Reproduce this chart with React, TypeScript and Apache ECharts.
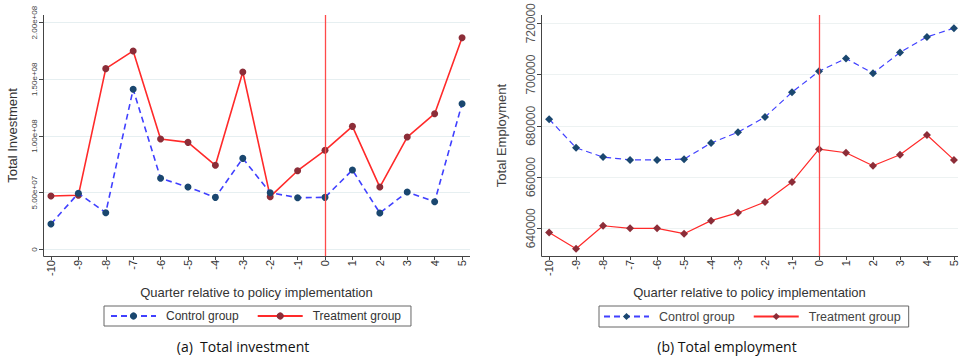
import React, { useEffect, useRef } from "react";
import * as echarts from "echarts";

const quarters = [-10, -9, -8, -7, -6, -5, -4, -3, -2, -1, 0, 1, 2, 3, 4, 5];

const investControl = [2.24e7, 4.95e7, 3.24e7, 1.412e8, 6.27e7, 5.5e7, 4.59e7, 8.03e7, 5.0e7, 4.56e7, 4.59e7, 7.0e7, 3.21e7, 5.06e7, 4.21e7, 1.285e8];
const investTreatment = [4.71e7, 4.77e7, 1.594e8, 1.75e8, 9.74e7, 9.44e7, 7.42e7, 1.564e8, 4.65e7, 6.94e7, 8.74e7, 1.085e8, 5.5e7, 9.91e7, 1.197e8, 1.867e8];

const employControl = [682600, 671400, 667800, 666700, 666700, 667000, 673300, 677500, 683400, 693100, 701300, 706300, 700500, 708600, 714700, 718100];
const employTreatment = [638400, 632000, 641000, 640000, 640000, 637900, 643000, 646100, 650300, 658100, 670900, 669500, 664400, 668700, 676400, 666700];

const investTicks = [0, 5e7, 1e8, 1.5e8, 2e8];
const employTicks = [640000, 660000, 680000, 700000, 720000];
const policyQuarter = 0;

const FONT = "'Liberation Sans', Arial, sans-serif";
const RED = "#ff2a2a";
const POLICY_RED = "#ff4a4a";
const MAROON = "#8c2d38";
const BLUE = "#4040ff";
const NAVY = "#1a476f";
const AXIS = "#444444";

function fmtInvest(v: number): string {
  if (v === 0) return "0";
  return v.toExponential(2).replace(/e\+(\d)$/, "e+0$1");
}

export default function App() {
  const ref = useRef<HTMLDivElement>(null);
  useEffect(() => {
    document.body.style.margin = "0";
    const chart = echarts.init(ref.current!, null, { renderer: "svg" });
    const pairs = (ys: number[]) => quarters.map((q, i) => [q, ys[i]]);
    const xAxisCommon = (gridIndex: number, min: number, max: number) => ({
      type: "value",
      gridIndex,
      min,
      max,
      name: "Quarter relative to policy implementation",
      nameLocation: "middle",
      nameGap: 30,
      nameTextStyle: { fontFamily: FONT, fontSize: 13, color: "#333" },
      axisLine: { show: false, onZero: false },
      axisTick: { show: true, length: 4, customValues: quarters, lineStyle: { color: AXIS } },
      axisLabel: {
        customValues: quarters,
        rotate: 90,
        margin: 4,
        fontFamily: FONT,
        fontSize: 11,
        color: "#333",
        formatter: (v: number) => String(v),
      },
      splitLine: { show: false },
      minorSplitLine: { show: false },
    });
    const frameSeries = (idx: number) => ({
      type: "custom",
      coordinateSystem: "cartesian2d",
      xAxisIndex: idx,
      yAxisIndex: idx,
      silent: true,
      clip: false,
      data: [[policyQuarter]],
      encode: { x: 0 },
      renderItem: (params: any, api: any) => {
        const cs = params.coordSys;
        const x = Math.round(api.coord([api.value(0), 0])[0]) + 0.5;
        const left = Math.round(cs.x) + 0.5;
        const bottom = Math.round(cs.y + cs.height) + 0.5;
        return {
          type: "group",
          children: [
            {
              type: "line",
              z2: 100,
              shape: { x1: x, y1: cs.y, x2: x, y2: cs.y + cs.height },
              style: { stroke: POLICY_RED, fill: null, lineWidth: 1.3, opacity: 1 },
            },
            {
              type: "line",
              shape: { x1: left, y1: cs.y, x2: left, y2: bottom },
              style: { stroke: AXIS, fill: null, lineWidth: 1 },
            },
            {
              type: "line",
              shape: { x1: left, y1: bottom, x2: cs.x + cs.width, y2: bottom },
              style: { stroke: AXIS, fill: null, lineWidth: 1 },
            },
          ],
        };
      },
      z: 20,
    });
    const option: any = {
      animation: false,
      backgroundColor: "#ffffff",
      textStyle: { fontFamily: FONT },
      grid: [
        { left: 43, top: 15, width: 427, height: 241, show: false },
        { left: 541, top: 15, width: 417, height: 241, show: false },
      ],
      xAxis: [xAxisCommon(0, -10.29, 5.29), xAxisCommon(1, -10.3, 5.15)],
      yAxis: [
        {
          type: "value",
          gridIndex: 0,
          position: "left",
          min: -5.8e6,
          max: 2.067e8,
          name: "Total Investment",
          nameLocation: "middle",
          nameGap: 24,
          nameTextStyle: { fontFamily: FONT, fontSize: 13, color: "#333" },
          axisLine: { show: false, onZero: false },
          axisTick: { show: true, length: 4, customValues: investTicks, lineStyle: { color: AXIS } },
          axisLabel: {
            customValues: investTicks,
            rotate: 90,
            margin: 5,
            fontSize: 8,
            fontFamily: FONT,
            color: "#444",
            formatter: fmtInvest,
          },
          splitLine: { show: true, lineStyle: { color: "#e6eff1", width: 1 } },
        },
        {
          type: "value",
          gridIndex: 1,
          position: "left",
          min: 629200,
          max: 723240,
          name: "Total Employment",
          nameLocation: "middle",
          nameGap: 33,
          nameTextStyle: { fontFamily: FONT, fontSize: 13, color: "#444" },
          axisLine: { show: false, onZero: false },
          axisTick: { show: true, length: 4, customValues: employTicks, lineStyle: { color: AXIS } },
          axisLabel: {
            customValues: employTicks,
            rotate: 90,
            margin: 4,
            fontSize: 12,
            fontFamily: FONT,
            color: "#555",
            formatter: (v: number) => String(v),
          },
          splitLine: { show: true, lineStyle: { color: "#edf2f2", width: 1 } },
        },
      ],
      legend: [
        {
          data: ["Control group", "Treatment group"],
          left: 104,
          top: 306,
          orient: "horizontal",
          itemWidth: 45,
          itemHeight: 9,
          itemGap: 18,
          padding: [4, 10, 4, 6],
          borderColor: "#666",
          borderWidth: 1,
          textStyle: { fontFamily: FONT, fontSize: 12, color: "#333", padding: [0, 0, 0, 5] },
          selectedMode: false,
        },
        {
          data: ["Control group (b)", "Treatment group (b)"],
          left: 599,
          top: 306,
          orient: "horizontal",
          itemWidth: 45,
          itemHeight: 9,
          itemGap: 18,
          padding: [4, 8, 4, 4],
          borderColor: "#666",
          borderWidth: 1,
          formatter: (n: string) => n.replace(" (b)", ""),
          textStyle: { fontFamily: FONT, fontSize: 12.5, color: "#444", padding: [0, 0, 0, 5] },
          selectedMode: false,
        },
      ],
      title: [
        {
          text: "(a)  Total investment",
          left: 243,
          top: 339,
          textAlign: "center",
          padding: 0,
          textStyle: { fontFamily: "'Open Sans', 'Noto Sans', sans-serif", fontSize: 14, fontWeight: "normal", color: "#111" },
        },
        {
          text: "(b) Total employment",
          left: 727,
          top: 339,
          textAlign: "center",
          padding: 0,
          textStyle: { fontFamily: "'Open Sans', 'Noto Sans', sans-serif", fontSize: 14, fontWeight: "normal", color: "#111" },
        },
      ],
      series: [
        frameSeries(0),
        frameSeries(1),
        {
          name: "Control group",
          type: "line",
          xAxisIndex: 0,
          yAxisIndex: 0,
          data: pairs(investControl),
          symbol: "circle",
          symbolSize: 7,
          itemStyle: { color: NAVY },
          lineStyle: { color: BLUE, width: 1.6, type: [6, 4] },
          z: 3,
        },
        {
          name: "Treatment group",
          type: "line",
          xAxisIndex: 0,
          yAxisIndex: 0,
          data: pairs(investTreatment),
          symbol: "circle",
          symbolSize: 7,
          itemStyle: { color: MAROON },
          lineStyle: { color: RED, width: 1.6 },
          z: 2,
        },
        {
          name: "Control group (b)",
          type: "line",
          xAxisIndex: 1,
          yAxisIndex: 1,
          data: pairs(employControl),
          symbol: "diamond",
          symbolSize: 8,
          itemStyle: { color: NAVY },
          lineStyle: { color: BLUE, width: 1.2, type: [6, 4] },
          z: 3,
        },
        {
          name: "Treatment group (b)",
          type: "line",
          xAxisIndex: 1,
          yAxisIndex: 1,
          data: pairs(employTreatment),
          symbol: "diamond",
          symbolSize: 8,
          itemStyle: { color: MAROON },
          lineStyle: { color: RED, width: 1.2 },
          z: 2,
        },
      ],
    };
    chart.setOption(option);
    return () => chart.dispose();
  }, []);
  return <div ref={ref} style={{ width: 960, height: 362 }} />;
}
